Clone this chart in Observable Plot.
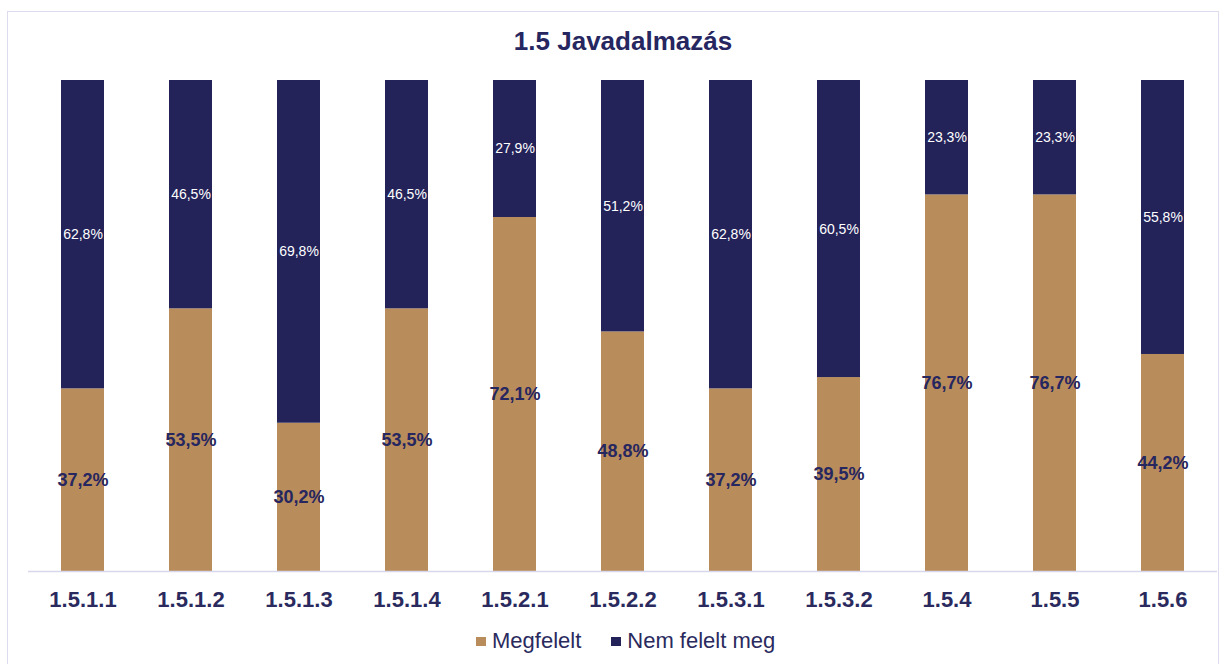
<!DOCTYPE html>
<html><head><meta charset="utf-8">
<script src="https://cdn.jsdelivr.net/npm/d3@7"></script>
<script src="https://cdn.jsdelivr.net/npm/@observablehq/plot@0.6"></script>
<style>
html,body{margin:0;padding:0;background:#fff;width:1226px;height:664px;overflow:hidden;font-family:"Liberation Sans",Arial,sans-serif;}
#frame{position:absolute;left:7px;top:11px;width:1212px;height:670px;border:1px solid #dcdcee;box-sizing:border-box;}
#title{position:absolute;top:26px;left:423px;width:400px;text-align:center;font-weight:bold;font-size:26px;color:#262660;}
#chart{position:absolute;left:0;top:0;}
#legend{position:absolute;top:628px;left:476px;display:flex;gap:30px;font-size:22px;color:#2a2a5e;white-space:nowrap;}
#legend span.sw{display:inline-block;width:10px;height:9px;margin-right:6px;vertical-align:middle;position:relative;top:-1px;}
g[aria-label="x-axis tick label"] text{font-weight:bold;}
</style></head>
<body>
<div id="frame"></div>
<div id="title">1.5 Javadalmazás</div>
<div id="chart"></div>
<div id="legend"></div>
<script>
const categories = ["1.5.1.1","1.5.1.2","1.5.1.3","1.5.1.4","1.5.2.1","1.5.2.2","1.5.3.1","1.5.3.2","1.5.4","1.5.5","1.5.6"];
const megfelelt = [37.2,53.5,30.2,53.5,72.1,48.8,37.2,39.5,76.7,76.7,44.2];
const nemFelelt = [62.8,46.5,69.8,46.5,27.9,51.2,62.8,60.5,23.3,23.3,55.8];
const seriesNames = ["Megfelelt","Nem felelt meg"];
const seriesColors = ["#B98C5B","#23235A"];

const data = categories.flatMap((c,i)=>[
  {cat:c, series:seriesNames[0], value:megfelelt[i]},
  {cat:c, series:seriesNames[1], value:nemFelelt[i]}
]);
const fmt = v => d3.format(".1f")(v).replace(".", ",") + "%";

const plot = Plot.plot({
  width:1226, height:664,
  marginTop:80, marginBottom:93, marginLeft:28, marginRight:9,
  style:{fontFamily:"'Liberation Sans', Arial, sans-serif", background:"transparent", color:"#2a2a5e"},
  x:{domain:categories, paddingInner:0.6, paddingOuter:0.3, label:null},
  y:{domain:[0,100], axis:null},
  color:{domain:seriesNames, range:seriesColors},
  marks:[
    Plot.barY(data, {x:"cat", y:"value", fill:"series", z:"series", order:seriesNames}),
    Plot.ruleY([0], {stroke:"#d6d6ec", strokeWidth:1.5}),
    Plot.text(data, Plot.stackY({x:"cat", y:"value", z:"series", order:seriesNames,
      text: d => d.series===seriesNames[0] ? fmt(d.value) : null,
      fill:"#262660", fontWeight:"bold", fontSize:18})),
    Plot.text(data, Plot.stackY({x:"cat", y:"value", z:"series", order:seriesNames,
      text: d => d.series===seriesNames[1] ? fmt(d.value) : null,
      fill:"#ffffff", fontSize:14})),
    Plot.axisX({tickSize:0, tickPadding:20, fontSize:22, label:null})
  ]
});
document.getElementById("chart").appendChild(plot);

const legend = document.getElementById("legend");
seriesNames.forEach((s,i)=>{
  const item = document.createElement("div");
  item.innerHTML = `<span class="sw" style="background:${seriesColors[i]}"></span>${s}`;
  legend.appendChild(item);
});
</script>
</body></html>
